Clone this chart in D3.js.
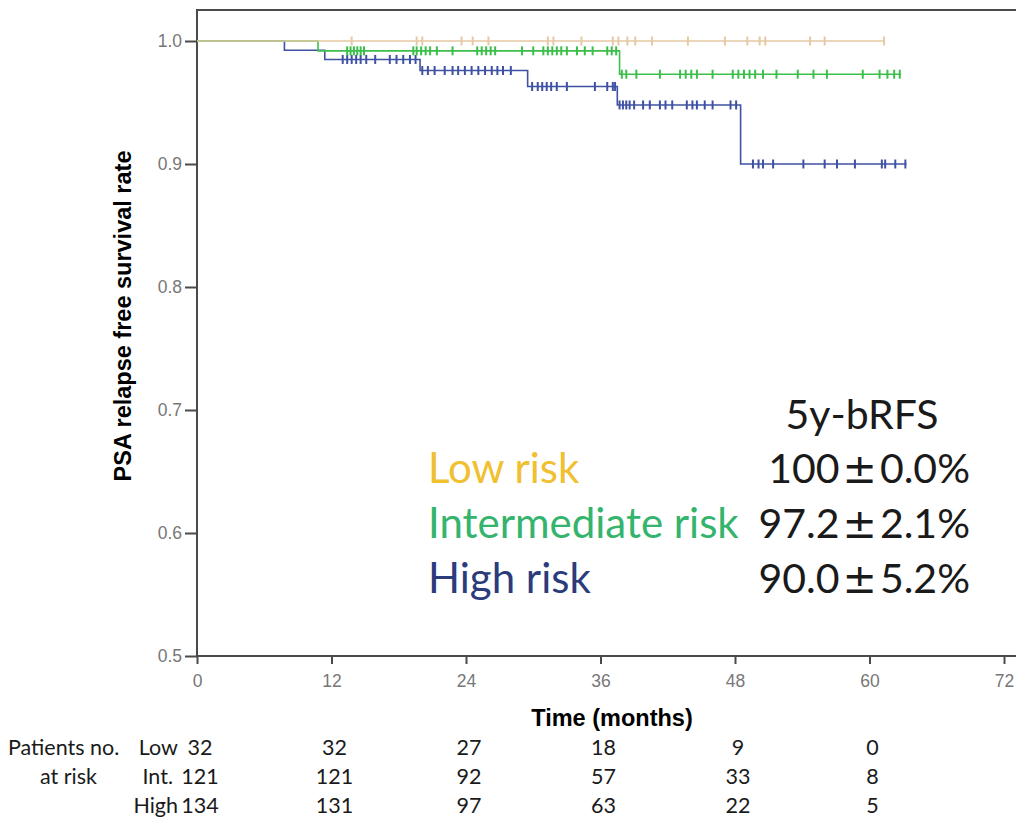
<!DOCTYPE html>
<html>
<head>
<meta charset="utf-8">
<script src="https://cdn.jsdelivr.net/npm/d3@7"></script>
<style>
body{margin:0;background:#fff}
</style>
</head>
<body>
<div id="chart"></div>
<script>
// Kaplan-Meier steps: [time in months, survival]
var lowSteps  = [[0,1],[61.3,1]];
var intSteps  = [[0,1],[10.8,0.992],[37.7,0.973],[62.8,0.973]];
var highSteps = [[0,1],[7.8,0.9925],[11.4,0.985],[19.9,0.976],[29.5,0.963],[37.5,0.948],[48.5,0.900],[63.3,0.900]];

// censored times
var lowCens  = [13.8,19.6,20.1,23.6,24.6,26.0,31.3,31.8,34.3,37.1,37.6,38.4,39.1,40.6,43.8,47.1,49.1,50.2,50.7,54.7,56.0,61.3];
var intCens  = [13.4,13.7,14.0,14.3,14.6,14.9,19.3,19.6,20.0,20.4,20.8,21.4,22.8,25.0,25.4,25.8,26.2,26.6,29.0,30.0,
                30.9,31.3,31.7,32.1,32.5,33.0,33.9,34.6,35.3,36.6,37.0,37.4,
                37.9,38.3,39.2,41.3,43.1,43.6,44.1,44.6,46.0,47.8,48.3,48.8,49.3,49.8,50.5,51.7,53.6,55.0,56.2,59.4,60.9,61.6,62.2,62.7];
var highCens = [13.0,13.4,13.8,14.2,14.6,15.1,15.9,17.2,17.8,18.4,19.0,19.5,
                20.1,20.6,21.2,22.1,22.8,23.3,23.9,24.5,25.1,25.7,26.3,26.8,27.3,28.0,
                29.9,30.4,30.8,31.2,31.6,32.1,33.0,35.5,36.6,37.1,37.3,
                37.7,38.0,38.3,38.6,39.0,39.8,40.4,41.3,41.8,42.4,43.7,44.2,44.6,45.3,46.0,47.6,48.1,
                49.6,50.1,50.5,51.4,54.1,56.0,57.1,58.7,61.1,61.4,62.3,63.2];

var xTicks = [0,12,24,36,48,60,72];
var yTicks = [0.5,0.6,0.7,0.8,0.9,1.0];

// numbers at risk
var riskTimes  = [0,12,24,36,48,60];
var lowAtRisk  = [32,32,27,18,9,0];
var intAtRisk  = [121,121,92,57,33,8];
var highAtRisk = [134,131,97,63,22,5];
var riskLabels = ["Low","Int.","High"];

var groupNames = ["Low risk","Intermediate risk","High risk"];
var bRFS = ["100\u00b10.0%","97.2\u00b12.1%","90.0\u00b15.2%"];

var W = 1016, H = 820;
var svg = d3.select("#chart").append("svg")
  .attr("width", W).attr("height", H);

var x = d3.scaleLinear().domain([0,72]).range([197,1004]);
var y = d3.scaleLinear().domain([0.5,1.0]).range([656,41]);

// frame (runs off the right edge like the source)
svg.append("rect")
  .attr("x", x(0)).attr("y", y(1.0252))
  .attr("width", 840).attr("height", y(0.5) - y(1.0252))
  .attr("fill", "none").attr("stroke", "#4a4a4a").attr("stroke-width", 2);

var xAxis = svg.append("g")
  .attr("transform", `translate(0,${y(0.5)})`)
  .call(d3.axisBottom(x).tickValues(xTicks).tickSize(8).tickPadding(11));
var yAxis = svg.append("g")
  .attr("transform", `translate(${x(0)},0)`)
  .call(d3.axisLeft(y).tickValues(yTicks).tickFormat(d3.format(".1f")).tickSize(12).tickPadding(3));
[xAxis, yAxis].forEach(function(g){
  g.select(".domain").remove();
  g.selectAll(".tick line").attr("stroke", "#4a4a4a").attr("stroke-width", 2);
  g.selectAll(".tick text").attr("fill", "#777")
    .style("font-family", "'Liberation Sans', Arial, sans-serif").style("font-size", "17.5px");
});

svg.append("text")
  .attr("transform", "translate(131,316) rotate(-90)")
  .attr("text-anchor", "middle")
  .style("font-family", "'Liberation Sans', Arial, sans-serif")
  .style("font-size", "23.5px").style("font-weight", "bold")
  .text("PSA relapse free survival rate");

svg.append("text")
  .attr("x", 612).attr("y", 726)
  .attr("text-anchor", "middle")
  .style("font-family", "'Liberation Sans', Arial, sans-serif")
  .style("font-size", "23.5px").style("font-weight", "bold")
  .text("Time (months)");

// curves
var groups = [
  {steps: highSteps, cens: highCens, color: "#3f51a3"},
  {steps: intSteps,  cens: intCens,  color: "#3cbf4a"},
  {steps: lowSteps,  cens: lowCens,  color: "#e6c9a2"}
];
function survAt(steps, t){
  var s = steps[0][1];
  steps.forEach(function(d){ if (d[0] <= t) s = d[1]; });
  return s;
}
var line = d3.line()
  .x(d => x(d[0]))
  .y(d => y(d[1]))
  .curve(d3.curveStepAfter);

groups.forEach(function(g){
  svg.append("path")
    .datum(g.steps)
    .attr("fill", "none")
    .attr("stroke", g.color)
    .attr("stroke-width", 1.6)
    .attr("d", line);
  svg.selectAll(null)
    .data(g.cens)
    .enter().append("line")
    .attr("x1", d => x(d)).attr("x2", d => x(d))
    .attr("y1", d => y(survAt(g.steps, d)) - 4.5)
    .attr("y2", d => y(survAt(g.steps, d)) + 4.5)
    .attr("stroke", g.color)
    .attr("stroke-width", 2);
});

// legend box text
var legendColors = ["#f0c030","#34b46c","#2b3b7c"];
var lgFont = "Lato, 'Open Sans', sans-serif";
svg.append("text")
  .attr("x", 862).attr("y", 429)
  .attr("text-anchor", "middle")
  .style("font-family", lgFont).style("font-size", "41px").attr("fill", "#1a1a1a")
  .text("5y-bRFS");
groupNames.forEach(function(n, i){
  svg.append("text")
    .attr("x", 428).attr("y", 483 + i*55)
    .style("font-family", lgFont).style("font-size", "42px")
    .attr("fill", legendColors[i])
    .text(n);
  var parts = bRFS[i].split("\u00b1");
  var t = svg.append("text")
    .attr("x", 970).attr("y", 483 + i*55)
    .attr("text-anchor", "end")
    .style("font-family", lgFont).style("font-size", "41px").attr("fill", "#1a1a1a");
  t.append("tspan").text(parts[0]);
  t.append("tspan").attr("dx", 3).style("font-family", "'DejaVu Sans', sans-serif").text("\u00b1");
  t.append("tspan").attr("dx", 3).text(parts[1]);
});

// risk table
var tblFont = "Lato, 'Open Sans', sans-serif";
var tblSize = "21.5px";
var labelEnd = [178, 173, 178];
svg.append("text").attr("x", 8).attr("y", 755)
  .style("font-family", tblFont).style("font-size", tblSize).attr("fill", "#1a1a1a")
  .text("Patients no.");
svg.append("text").attr("x", 40).attr("y", 784)
  .style("font-family", tblFont).style("font-size", tblSize).attr("fill", "#1a1a1a")
  .text("at risk");
[lowAtRisk, intAtRisk, highAtRisk].forEach(function(row, i){
  var yy = 755 + i*29;
  svg.append("text").attr("x", labelEnd[i]).attr("y", yy)
    .attr("text-anchor", "end")
    .style("font-family", tblFont).style("font-size", tblSize).attr("fill", "#1a1a1a")
    .text(riskLabels[i]);
  svg.selectAll(null).data(row).enter().append("text")
    .attr("x", (d, j) => x(riskTimes[j]) + 3)
    .attr("y", yy)
    .attr("text-anchor", "middle")
    .style("font-family", tblFont).style("font-size", tblSize).attr("fill", "#1a1a1a")
    .text(d => d);
});
</script>
</body>
</html>
